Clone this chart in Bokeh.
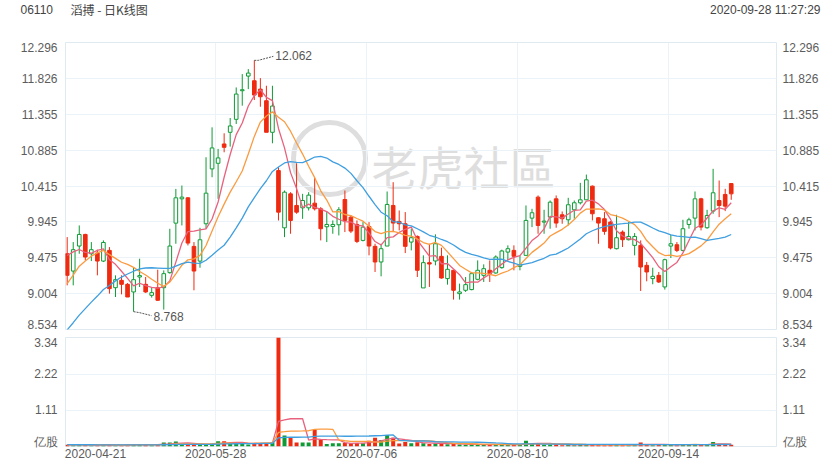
import numpy as np
from bokeh.plotting import figure
from bokeh.layouts import column
from bokeh.models import Range1d, FixedTicker, PrintfTickFormatter, LinearAxis
from bokeh.embed import file_html
from bokeh.resources import INLINE
from bokeh.core.properties import value

# ---------------- data ----------------
stock_code = "06110"
stock_title = "滔搏 - 日K线图"
stamp = "2020-09-28 11:27:29"

date_labels = ["2020-04-21", "2020-05-28", "2020-07-06", "2020-08-10", "2020-09-14"]
date_pos = [0, 25, 50, 75, 100]

price_ticks = [8.534, 9.004, 9.475, 9.945, 10.415, 10.885, 11.355, 11.826, 12.296]
vol_ticks = [1.11, 2.22, 3.34]
vol_unit = "亿股"

opens = [9.527, 9.300, 9.628, 9.780, 9.527, 9.536, 9.431, 9.571, 9.082, 9.178,
         9.126, 9.026, 9.222, 9.126, 8.982, 9.082, 9.082, 9.279, 9.928, 10.247,
         10.260, 9.623, 9.431, 9.920, 10.639, 10.713, 10.966, 11.119, 11.289, 11.664,
         11.856, 11.795, 11.685, 11.533, 11.119, 10.617, 9.867, 10.312, 10.160, 10.129,
         10.129, 10.190, 10.116, 9.881, 9.885, 9.907, 10.238, 10.007, 9.911, 9.702,
         9.885, 9.624, 9.419, 9.628, 10.160, 9.951, 9.920, 9.680, 9.754, 9.079,
         9.410, 9.432, 9.493, 9.201, 9.310, 9.004, 9.048, 9.057, 9.192, 9.244,
         9.310, 9.275, 9.345, 9.549, 9.571, 9.362, 9.506, 9.994, 10.269, 9.942,
         10.007, 10.247, 10.038, 9.972, 10.103, 10.195, 10.234, 10.413, 9.999, 9.986,
         9.942, 9.593, 9.811, 9.711, 9.637, 9.637, 9.375, 9.201, 9.244, 9.092,
         9.628, 9.645, 9.571, 9.911, 9.994, 10.247, 9.868, 10.086, 10.225, 10.304,
         10.447]
closes = [9.244, 9.580, 9.780, 9.484, 9.580, 9.431, 9.675, 9.069, 9.187, 9.126,
          8.960, 9.187, 9.240, 9.026, 9.017, 8.917, 9.266, 9.628, 10.260, 10.269,
          9.667, 9.300, 9.710, 10.321, 10.914, 10.783, 10.922, 11.202, 11.620, 11.677,
          11.895, 11.607, 11.585, 11.119, 11.463, 10.072, 10.334, 9.963, 10.072, 10.225,
          10.295, 10.116, 9.855, 9.911, 9.911, 10.103, 9.964, 9.824, 9.689, 9.876,
          9.628, 9.419, 9.593, 10.173, 9.929, 9.920, 9.624, 9.737, 9.310, 9.410,
          9.392, 9.658, 9.209, 9.323, 9.048, 9.026, 9.122, 9.266, 9.310, 9.331,
          9.266, 9.484, 9.563, 9.593, 9.493, 9.384, 9.964, 10.064, 9.898, 9.955,
          10.203, 9.929, 9.986, 10.169, 10.195, 10.234, 10.496, 10.051, 9.929, 9.820,
          9.602, 9.737, 9.711, 9.754, 9.754, 9.353, 9.288, 9.231, 9.157, 9.449,
          9.658, 9.571, 9.855, 9.972, 10.247, 9.876, 10.029, 10.326, 10.160, 10.151,
          10.312]
highs = [9.745, 9.680, 9.898, 9.789, 9.680, 9.580, 9.702, 9.614, 9.244, 9.244,
         9.143, 9.353, 9.462, 9.222, 9.091, 9.318, 9.309, 9.854, 10.377, 10.421,
         10.269, 9.680, 9.867, 10.792, 11.184, 10.901, 11.106, 11.306, 11.707, 11.882,
         11.947, 12.062, 11.829, 11.729, 11.729, 10.661, 10.356, 10.334, 10.713, 10.312,
         10.334, 10.522, 10.138, 10.073, 9.964, 10.138, 10.356, 10.029, 9.964, 9.942,
         9.942, 9.658, 9.658, 10.343, 10.465, 10.094, 10.073, 9.855, 9.767, 9.506,
         9.658, 9.781, 9.606, 9.506, 9.310, 9.135, 9.222, 9.288, 9.440, 9.388,
         9.440, 9.506, 9.580, 9.637, 9.637, 9.506, 10.160, 10.116, 10.291, 10.103,
         10.225, 10.291, 10.081, 10.260, 10.225, 10.456, 10.565, 10.421, 10.007, 10.073,
         9.955, 10.038, 9.833, 9.942, 9.798, 9.702, 9.419, 9.344, 9.288, 9.462,
         9.776, 9.680, 9.972, 9.999, 10.343, 10.260, 10.103, 10.640, 10.487, 10.378,
         10.447]
lows = [9.113, 9.113, 9.527, 9.440, 9.431, 9.244, 9.418, 9.004, 8.960, 8.995,
        8.960, 8.768, 9.091, 9.013, 8.952, 8.908, 8.795, 9.266, 9.658, 9.898,
        9.636, 9.048, 9.344, 9.854, 10.530, 10.247, 10.857, 10.931, 11.228, 11.468,
        11.685, 11.542, 11.454, 11.119, 10.975, 9.963, 9.745, 9.789, 10.051, 9.985,
        10.094, 10.094, 9.702, 9.680, 9.789, 9.767, 9.811, 9.798, 9.667, 9.689,
        9.506, 9.288, 9.231, 9.628, 9.811, 9.833, 9.536, 9.571, 9.222, 9.079,
        9.092, 9.375, 9.201, 9.122, 8.926, 8.926, 9.026, 9.048, 9.179, 9.157,
        9.157, 9.266, 9.331, 9.440, 9.310, 9.310, 9.506, 9.876, 9.789, 9.789,
        9.855, 9.868, 9.920, 9.898, 9.986, 10.173, 10.234, 9.964, 9.658, 9.776,
        9.584, 9.584, 9.615, 9.702, 9.506, 9.039, 9.166, 9.127, 9.144, 9.057,
        9.471, 9.549, 9.558, 9.855, 9.833, 9.833, 9.855, 10.051, 10.007, 10.086,
        10.234]
volumes = [0.05, 0.04, 0.06, 0.05, 0.03, 0.04, 0.05, 0.06, 0.04, 0.03,
           0.05, 0.06, 0.08, 0.05, 0.04, 0.06, 0.12, 0.12, 0.15, 0.08,
           0.07, 0.06, 0.05, 0.07, 0.09, 0.16, 0.16, 0.10, 0.10, 0.09,
           0.06, 0.11, 0.11, 0.11, 0.13, 3.38, 0.34, 0.29, 0.12, 0.12,
           0.12, 0.51, 0.21, 0.08, 0.10, 0.10, 0.11, 0.10, 0.11, 0.10,
           0.18, 0.27, 0.20, 0.35, 0.27, 0.09, 0.14, 0.10, 0.13, 0.10,
           0.08, 0.09, 0.10, 0.07, 0.09, 0.06, 0.05, 0.07, 0.06, 0.05,
           0.06, 0.07, 0.06, 0.05, 0.07, 0.05, 0.18, 0.09, 0.10, 0.05,
           0.06, 0.07, 0.04, 0.05, 0.04, 0.05, 0.06, 0.07, 0.05, 0.04,
           0.06, 0.05, 0.04, 0.04, 0.05, 0.12, 0.06, 0.04, 0.05, 0.07,
           0.06, 0.04, 0.06, 0.05, 0.07, 0.06, 0.05, 0.14, 0.07, 0.06,
           0.05]
# sessions before the visible window (needed for the moving averages)
pre_closes = [7.72, 7.80, 7.76, 7.88, 7.85, 7.95, 8.02, 7.98, 8.12, 8.17,
              8.45, 8.62, 8.80, 8.95, 9.005, 9.35, 9.62, 9.68, 9.63]
pre_volumes = [0.06, 0.05, 0.07, 0.04, 0.05, 0.06, 0.08, 0.05, 0.04, 0.06,
               0.07, 0.05, 0.06, 0.04, 0.05, 0.07, 0.06, 0.05, 0.04]

# ---------------- style ----------------
RED = "#ee2a10"
GREEN = "#0e9a35"
MA_COLORS = {5: "#e8627e", 10: "#fb9b40", 20: "#3f9fe0"}
GRID = "#ebf3f8"
OUTLINE = "#dfe9f0"
LABEL = "#5c5c5c"
FONT = "Liberation Sans"
CJK = "Noto Sans CJK SC"
W = 838
BL, BR = 65, 62
HEAD_H = 34

n = len(closes)
idx = np.arange(n)
o = np.array(opens); c = np.array(closes); h = np.array(highs); l = np.array(lows)
up = c >= o
btop = np.maximum(o, c); bbot = np.minimum(o, c)


def rolling(vals, w):
    a = np.asarray(vals, float)
    r = np.convolve(a, np.ones(w) / w, mode="valid")
    return r[-n:]


FRAME_W, FRAME_H, VOL_H = W - BL - BR, 287, 109
xr = Range1d(-0.28, 117.5)
px_x = FRAME_W / (xr.end - xr.start)
px_y = FRAME_H / (price_ticks[-1] - price_ticks[0])
px_v = VOL_H / vol_ticks[-1]
grid_x = [d - 0.4 for d in date_pos[1:]]


def mk_axis(ticks, fmt, standoff, overrides=None):
    ax = LinearAxis(ticker=FixedTicker(ticks=ticks), formatter=PrintfTickFormatter(format=fmt),
                    axis_line_color=None, major_tick_line_color=None, minor_tick_line_color=None,
                    major_tick_out=0, major_tick_in=0, minor_tick_out=0, minor_tick_in=0,
                    major_label_text_font=FONT, major_label_text_font_size="12px",
                    major_label_text_color=LABEL, major_label_standoff=standoff)
    if overrides:
        ax.major_label_overrides = overrides
    return ax


# ---------------- header strip (its own root, frame = whole strip) ----------------
hd = figure(width=W, height=HEAD_H, x_range=Range1d(0, W), y_range=Range1d(HEAD_H, 0),
            output_backend="svg", toolbar_location=None, x_axis_location=None, y_axis_location=None,
            min_border=0, min_border_left=0, min_border_right=0, min_border_top=0, min_border_bottom=0,
            outline_line_color=None)
hd.grid.visible = False
hd.text([20], [9], text=[stock_code], text_font=value(FONT), text_font_size="12px",
        text_color="#444444", text_baseline="middle")
hd.text([70], [9], text=[stock_title], text_font=value(CJK), text_font_size="12px",
        text_color="#444444", text_baseline="middle")
hd.text([820], [9], text=[stamp], text_font=value(FONT), text_font_size="12px",
        text_color="#444444", text_baseline="middle", text_align="right")

# ---------------- price panel ----------------
p = figure(width=W, height=299, x_range=xr,
           y_range=Range1d(price_ticks[0], price_ticks[-1]),
           output_backend="svg", toolbar_location=None,
           x_axis_location=None, y_axis_location=None,
           min_border_left=BL, min_border_right=BR, min_border_top=8, min_border_bottom=4,
           outline_line_color=OUTLINE, border_fill_color="white")
p.xgrid.ticker = FixedTicker(ticks=grid_x)
p.ygrid.ticker = FixedTicker(ticks=price_ticks[1:-1])
p.grid.grid_line_color = GRID

# edge labels sit just inside the frame, as in the original
top_lab = price_ticks[-1] - 4.5 / px_y
bot_lab = price_ticks[0] + 5 / px_y
p_lab_ticks = [bot_lab] + price_ticks[1:-1] + [top_lab]
p_over = {bot_lab: "%.3f" % price_ticks[0], top_lab: "%.3f" % price_ticks[-1]}
p.add_layout(mk_axis(p_lab_ticks, "%.3f", 8, p_over), "left")
p.add_layout(mk_axis(p_lab_ticks, "%.3f", 6, p_over), "right")

# watermark
wx = xr.start + (329 - BL) / px_x
wy = price_ticks[-1] - (158 - 42) / px_y
r = p.scatter([wx], [wy], size=72, marker="circle", fill_color=None, line_color="#dedede", line_width=5)
r.level = "underlay"
tx = xr.start + (463 - BL) / px_x
ty = price_ticks[-1] - (164 - 42) / px_y
r = p.text([tx], [ty], text=["老虎社區"], text_font=value(CJK), text_font_size="46px",
           text_color="#dedede", text_align="center", text_baseline="middle")
r.level = "underlay"

# candles
for mask, col, fill in ((up, GREEN, "white"), (~up, RED, RED)):
    xs = idx[mask]
    p.segment(xs, h[mask], xs, btop[mask], line_color=col, line_width=1)
    p.segment(xs, bbot[mask], xs, l[mask], line_color=col, line_width=1)
    p.vbar(x=xs, width=0.6, top=btop[mask], bottom=bbot[mask],
           fill_color=fill, line_color=col, line_width=1)

full_c = pre_closes + closes
for w, colr in MA_COLORS.items():
    p.line(idx, rolling(full_c, w), line_color=colr, line_width=1.3)

# high / low markers
hi = int(np.argmax(h)); lo = int(np.argmin(l))
p.line([hi, hi + 4 / px_x, hi + 19 / px_x], [h[hi], h[hi], h[hi] + 4 / px_y],
       line_color="#555555", line_dash="2 1", line_width=1)
p.text([hi + 21 / px_x], [h[hi] + 4.5 / px_y], text=["%.3f" % h[hi]], text_font=value(FONT),
       text_font_size="12px", text_color="#555555", text_baseline="middle", text_align="left")
p.line([lo, lo + 6 / px_x, lo + 18 / px_x], [l[lo], l[lo] - 1 / px_y, l[lo] - 4 / px_y],
       line_color="#555555", line_dash="2 1", line_width=1)
p.text([lo + 20 / px_x], [l[lo] - 4.5 / px_y], text=["%.3f" % l[lo]], text_font=value(FONT),
       text_font_size="12px", text_color="#555555", text_baseline="middle", text_align="left")

# ---------------- volume panel ----------------
v = figure(width=W, height=129, x_range=xr, y_range=Range1d(0, vol_ticks[-1]),
           output_backend="svg", toolbar_location=None,
           x_axis_location=None, y_axis_location=None,
           min_border_left=BL, min_border_right=BR, min_border_top=4, min_border_bottom=16,
           outline_line_color=OUTLINE, border_fill_color="white")
v.xgrid.ticker = FixedTicker(ticks=grid_x)
v.ygrid.ticker = FixedTicker(ticks=vol_ticks)
v.grid.grid_line_color = GRID

v_top_lab = vol_ticks[-1] - 5.5 / px_v
v_bot_lab = 5 / px_v
v_lab_ticks = [v_bot_lab] + vol_ticks[:-1] + [v_top_lab]
v_over = {v_bot_lab: vol_unit, v_top_lab: "%.2f" % vol_ticks[-1]}
v.add_layout(mk_axis(v_lab_ticks, "%.2f", 8, v_over), "left")
v.add_layout(mk_axis(v_lab_ticks, "%.2f", 6, v_over), "right")

first_lab = xr.start + 30 / px_x   # first date label sits inside the frame
x_lab_ticks = [first_lab] + grid_x
xax = LinearAxis(ticker=FixedTicker(ticks=x_lab_ticks),
                 major_label_overrides={g: t for g, t in zip(x_lab_ticks, date_labels)},
                 axis_line_color=None, major_tick_line_color=None, minor_tick_line_color=None,
                 major_tick_out=0, major_tick_in=0, minor_tick_out=0, minor_tick_in=0,
                 major_label_text_font=FONT, major_label_text_font_size="12px",
                 major_label_text_color=LABEL, major_label_standoff=2)
v.add_layout(xax, "below")

vol = np.array(volumes)
v.vbar(x=idx[up], width=0.66, top=vol[up], bottom=0, fill_color=GREEN, line_color=None)
v.vbar(x=idx[~up], width=0.66, top=vol[~up], bottom=0, fill_color=RED, line_color=None)
full_v = pre_volumes + volumes
for w, colr in MA_COLORS.items():
    v.line(idx, rolling(full_v, w), line_color=colr, line_width=1.3)

layout = column(p, v)
open("out.html", "w").write(file_html([hd, layout], INLINE))
